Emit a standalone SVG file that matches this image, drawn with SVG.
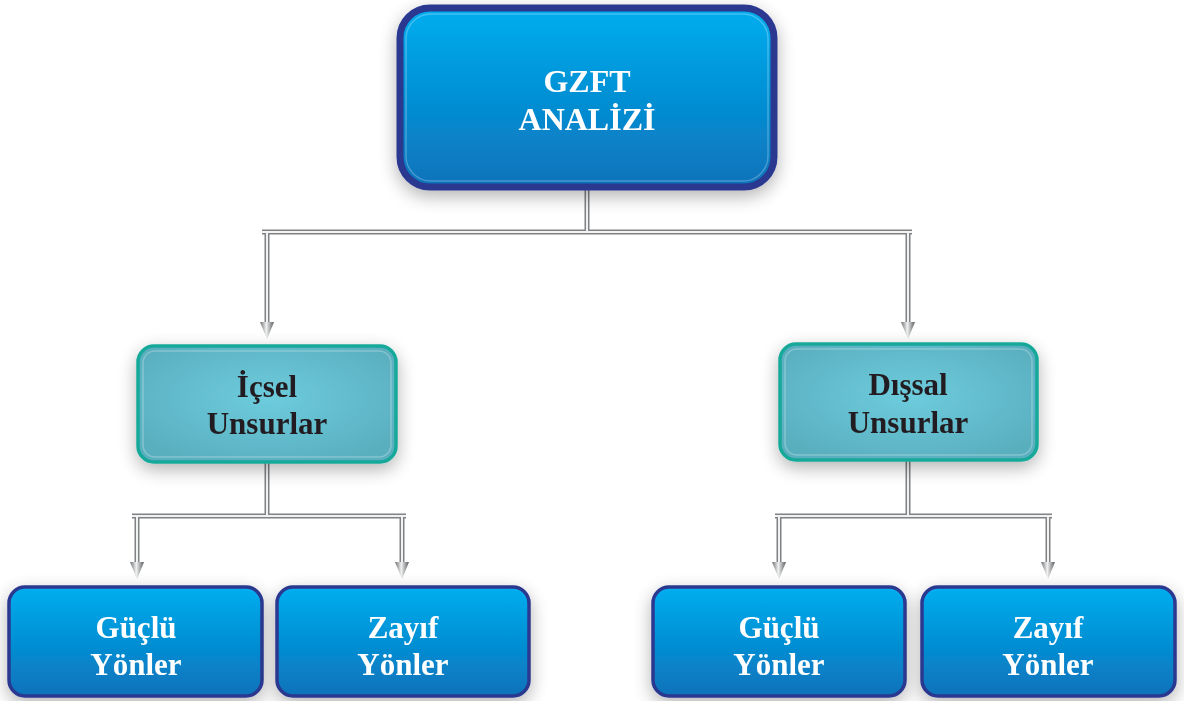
<svg xmlns="http://www.w3.org/2000/svg" width="1184" height="701" viewBox="0 0 1184 701">
<defs>
<linearGradient id="blueG" x1="0" y1="0" x2="0" y2="1">
<stop offset="0" stop-color="#00AEEF"/>
<stop offset="1" stop-color="#0A72BA"/>
</linearGradient>
<radialGradient id="tealG" cx="0.5" cy="0.45" r="0.6">
<stop offset="0" stop-color="#6DCCDD"/>
<stop offset="1" stop-color="#5AAFBF"/>
</radialGradient>
<linearGradient id="arrowG" x1="0" y1="0" x2="1" y2="0">
<stop offset="0" stop-color="#6D6E71"/>
<stop offset="0.45" stop-color="#F1F2F2"/>
<stop offset="1" stop-color="#58595B"/>
</linearGradient>
<filter id="sh" x="-20%" y="-20%" width="140%" height="150%">
<feGaussianBlur in="SourceAlpha" stdDeviation="9"/>
<feOffset dx="0" dy="6"/>
<feComponentTransfer><feFuncA type="linear" slope="0.3"/></feComponentTransfer>
<feMerge><feMergeNode/><feMergeNode in="SourceGraphic"/></feMerge>
</filter>
</defs>
<style>
.blue{fill:url(#blueG);stroke:#2B3990;stroke-width:3.5}
.top{fill:url(#blueG);stroke:#2B3990;stroke-width:7}
.teal{fill:url(#tealG);stroke:#17A99A;stroke-width:3.5}
.inner{fill:none;stroke:#ffffff;stroke-opacity:0.25;stroke-width:1.5}
.wt{font-family:"Liberation Serif",serif;font-weight:bold;fill:#ffffff;text-anchor:middle}
.dt{font-family:"Liberation Serif",serif;font-weight:bold;fill:#231F20;text-anchor:middle}
.c1{fill:none;stroke:#808285;stroke-width:5}
.c2{fill:none;stroke:#F1F2F2;stroke-width:2}
</style>
<rect width="1184" height="701" fill="#ffffff"/>
<g id="connectors">
<g class="c1">
<path d="M587,190 V232 M262,232 H912 M267,232 V325 M908,232 V325"/>
<path d="M267,463 V516 M132,516 H406 M137,516 V565 M402,516 V565"/>
<path d="M908,461 V516 M775,516 H1052 M779,516 V565 M1048,516 V565"/>
</g>
<g class="c2">
<path d="M587,190 V232 M262,232 H912 M267,232 V325 M908,232 V325"/>
<path d="M267,463 V516 M132,516 H406 M137,516 V565 M402,516 V565"/>
<path d="M908,461 V516 M775,516 H1052 M779,516 V565 M1048,516 V565"/>
</g>
<g fill="url(#arrowG)">
<path d="M260,322 L274,322 L267,339 Z"/>
<path d="M901,322 L915,322 L908,339 Z"/>
<path d="M130,562 L144,562 L137,579 Z"/>
<path d="M395,562 L409,562 L402,579 Z"/>
<path d="M772,562 L786,562 L779,579 Z"/>
<path d="M1041,562 L1055,562 L1048,579 Z"/>
</g>
</g>
<g id="gzft" filter="url(#sh)">
<rect class="top" x="400" y="8" width="374" height="179" rx="30"/>
<rect class="inner" x="406" y="14" width="362" height="167" rx="25"/>
<text class="wt" font-size="32" x="587" y="92">GZFT</text>
<text class="wt" font-size="32" x="587" y="130">ANALİZİ</text>
</g>
<g id="icsel" filter="url(#sh)">
<rect class="teal" x="138" y="346" width="258" height="116" rx="16"/>
<rect class="inner" x="143" y="351" width="248" height="106" rx="12"/>
<text class="dt" font-size="31" x="267" y="397">İçsel</text>
<text class="dt" font-size="31" x="267" y="434">Unsurlar</text>
</g>
<g id="dissal" filter="url(#sh)">
<rect class="teal" x="780" y="344" width="257" height="116" rx="16"/>
<rect class="inner" x="785" y="349" width="247" height="106" rx="12"/>
<text class="dt" font-size="31" x="908" y="395">Dışsal</text>
<text class="dt" font-size="31" x="908" y="433">Unsurlar</text>
</g>
<g id="guclu1" filter="url(#sh)">
<rect class="blue" x="9" y="587" width="253" height="109" rx="16"/>
<text class="wt" font-size="31" x="136" y="638">Güçlü</text>
<text class="wt" font-size="31" x="136" y="675">Yönler</text>
</g>
<g id="zayif1" filter="url(#sh)">
<rect class="blue" x="277" y="587" width="252" height="109" rx="16"/>
<text class="wt" font-size="31" x="403" y="638">Zayıf</text>
<text class="wt" font-size="31" x="403" y="675">Yönler</text>
</g>
<g id="guclu2" filter="url(#sh)">
<rect class="blue" x="653" y="587" width="252" height="109" rx="16"/>
<text class="wt" font-size="31" x="779" y="638">Güçlü</text>
<text class="wt" font-size="31" x="779" y="675">Yönler</text>
</g>
<g id="zayif2" filter="url(#sh)">
<rect class="blue" x="922" y="587" width="253" height="109" rx="16"/>
<text class="wt" font-size="31" x="1048" y="638">Zayıf</text>
<text class="wt" font-size="31" x="1048" y="675">Yönler</text>
</g>
</svg>
